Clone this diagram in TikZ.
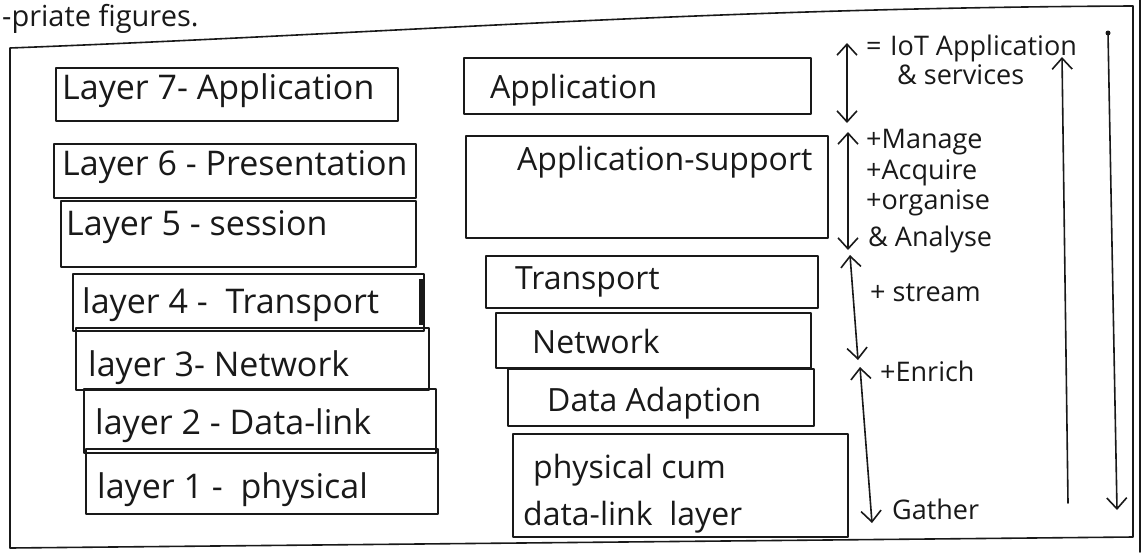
\documentclass[tikz,border=0pt]{standalone}
\usepackage{fontspec}
\setmainfont{Open Sans}
\usetikzlibrary{arrows.meta}
\begin{document}
\begin{tikzpicture}[x=1pt,y=-1pt,
  ink/.style={line width=1.6pt, line cap=round, line join=round, draw=black!90},
  layerbox/.style={ink, rectangle, anchor=north west, inner sep=0pt},
  lbl/.style={anchor=base west, inner sep=0pt, text=black!90, font=\fontsize{32}{34}\selectfont},
  osi/.style={lbl, font=\fontsize{34}{36}\selectfont},
  note/.style={anchor=base west, inner sep=0pt, text=black!90, font=\fontsize{27}{29}\selectfont},
  span/.style={ink, arrows={Straight Barb[length=11pt,width=20pt,line width=1.6pt]-Straight Barb[length=11pt,width=20pt,line width=1.6pt]}},
  upward/.style={ink, arrows={-Straight Barb[length=11pt,width=20pt,line width=1.6pt]}},
]
% paper
\fill[white] (0,0) rectangle (1145,552);
\useasboundingbox (0,0) rectangle (1145,552);

% heading fragment
\node[note, font=\fontsize{29}{31}\selectfont] (head) at (2,26) {-priate figures.};

% outer frame
\draw[ink] (10,48) .. controls (400,33) and (700,8) .. (1133,6)
  -- (1133,537) -- (10,548) -- cycle;
\draw[ink] (1140,0) -- (1140,552);

% OSI stack
\node[layerbox, minimum width=342pt, minimum height=53pt] (l7) at (55,67) {};
\node[layerbox, minimum width=362pt, minimum height=54pt] (l6) at (53,143) {};
\node[layerbox, minimum width=355pt, minimum height=66pt] (l5) at (60,200) {};
\node[layerbox, minimum width=351pt, minimum height=57pt] (l4) at (72,273) {};
\node[layerbox, minimum width=353pt, minimum height=62pt] (l3) at (75,327) {};
\node[layerbox, minimum width=352pt, minimum height=64pt] (l2) at (83,388) {};
\node[layerbox, minimum width=352pt, minimum height=65pt] (l1) at (85,448) {};
\draw[line width=4pt, black!90] (l4.north east) ++(-4,6) -- ++(0,46);

\node[osi] (t7) at (62,99)  {Layer 7- Application};
\node[osi] (t6) at (62,175) {Layer 6 - Presentation};
\node[osi] (t5) at (66,235) {Layer 5 - session};
\node[osi] (t4) at (82,313) {layer 4 -\ \ Transport};
\node[osi] (t3) at (88,376) {layer 3- Network};
\node[osi] (t2) at (95,434) {layer 2 - Data-link};
\node[osi] (t1) at (97,498) {layer 1 -\ \ physical};

% IoT stack
\node[layerbox, minimum width=347pt, minimum height=56pt]  (m1) at (463,57)  {};
\node[layerbox, minimum width=362pt, minimum height=102pt] (m2) at (465,135) {};
\node[layerbox, minimum width=332pt, minimum height=52pt]  (m3) at (485,255) {};
\node[layerbox, minimum width=315pt, minimum height=55pt]  (m4) at (495,312) {};
\node[layerbox, minimum width=306pt, minimum height=57pt]  (m5) at (507,368) {};
\node[layerbox, minimum width=335pt, minimum height=103pt] (m6) at (512,433) {};

\node[lbl] (s1) at (490,98)  {Application};
\node[lbl] (s2) at (517,170) {Application-support};
\node[lbl] (s3) at (515,289) {Transport};
\node[lbl] (s4) at (532,353) {Network};
\node[lbl] (s5) at (547,411) {Data Adaption};
\node[lbl] (s6) at (533,478) {physical cum};
\node[lbl] (s7) at (523,525) {data-link\ \ layer};

% spans of the IoT stack
\coordinate (a1t) at (847,43);  \coordinate (a1b) at (847,123);
\coordinate (a2t) at (848,132); \coordinate (a2b) at (848,250);
\coordinate (a3t) at (850,255); \coordinate (a3b) at (858,360);
\coordinate (a4t) at (860,367); \coordinate (a4b) at (872,523);
\draw[span] (a1t) -- (a1b);
\draw[span] (a2t) -- (a2b);
\draw[span] (a3t) -- (a3b);
\draw[span] (a4t) -- (a4b);

\node[note] (n0) at (866,55)  {=};
\node[note] (n1) at (890,55)  {IoT Application};
\node[note] (n2) at (897,84)  {\& services};
\node[note] (n3) at (866,148) {+Manage};
\node[note] (n4) at (866,179) {+Acquire};
\node[note] (n5) at (866,209) {+organise};
\node[note] (n6) at (868,246) {\& Analyse};
\node[note] (n7) at (870,301) {+ stream};
\node[note] (n8) at (880,381) {+Enrich};
\node[note] (n9) at (892,519) {Gather};

% overall flow: up and down
\coordinate (upb) at (1068,503); \coordinate (upt) at (1062,57);
\coordinate (dnt) at (1108,33);  \coordinate (dnb) at (1117,510);
\draw[upward] (upb) -- (upt);
\fill[black!90] (dnt) circle (2.5pt);
\draw[upward] (dnt) -- (dnb);
\end{tikzpicture}
\end{document}
